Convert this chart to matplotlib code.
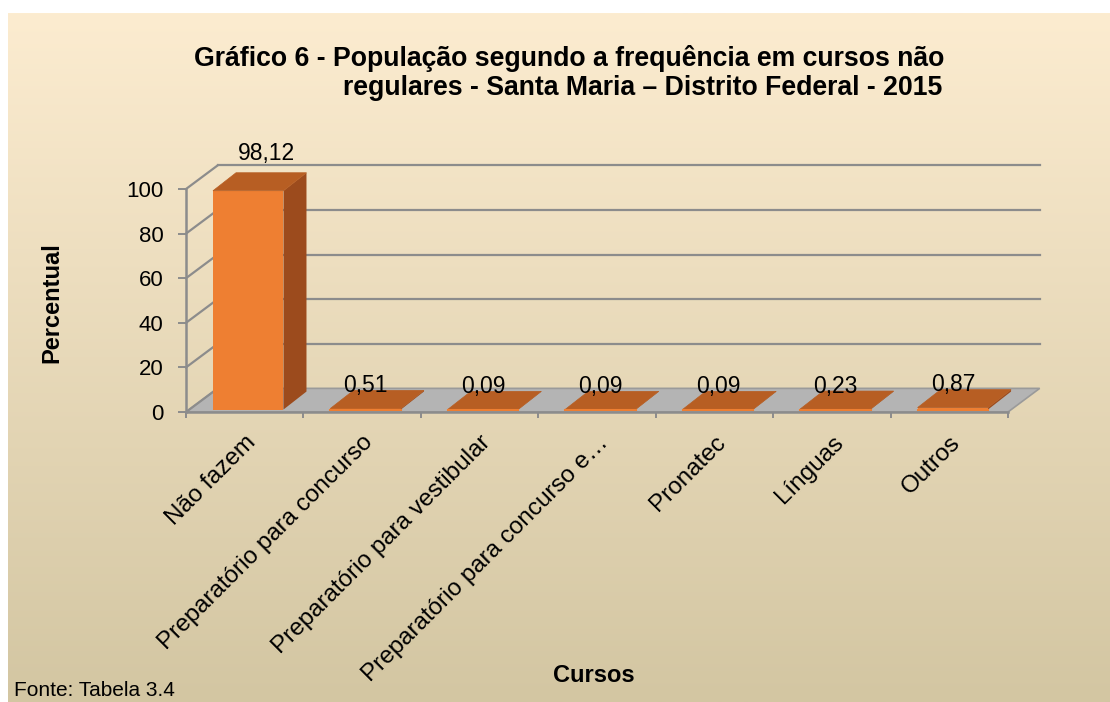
import numpy as np
import matplotlib
matplotlib.use('Agg')
import matplotlib.pyplot as plt
from matplotlib.patches import Polygon, Rectangle
from matplotlib.colors import LinearSegmentedColormap

# ---- data ----
categories = ["Não fazem", "Preparatório para concurso", "Preparatório para vestibular",
              "Preparatório para concurso e…", "Pronatec", "Línguas", "Outros"]
values = [98.12, 0.51, 0.09, 0.09, 0.09, 0.23, 0.87]
y_ticks = [0, 20, 40, 60, 80, 100]
title_line1 = "Gráfico 6 - População segundo a frequência em cursos não"
title_line2 = "regulares - Santa Maria – Distrito Federal - 2015"
x_label = "Cursos"
y_label = "Percentual"
source = "Fonte: Tabela 3.4"

plt.rcParams['font.family'] = ['Liberation Sans', 'DejaVu Sans']

W_PX, H_PX = 1110, 702
fig = plt.figure(figsize=(W_PX / 100, H_PX / 100), dpi=100)
fig.patch.set_facecolor('white')

# background gradient
bg = fig.add_axes([8 / W_PX, 0, 1 - 8 / W_PX, 1 - 13 / H_PX])
bg.set_axis_off()
c_top = np.array([252, 236, 208]) / 255
c_bot = np.array([211, 198, 162]) / 255
cmap = LinearSegmentedColormap.from_list('bg', [c_top, c_bot])
grad = np.linspace(0, 1, 256)[:, None]
bg.imshow(grad, aspect='auto', cmap=cmap, extent=[0, 1, 0, 1], origin='upper')
bg.set_zorder(-5)

# main axes
ax = fig.add_axes([186 / W_PX, (H_PX - 412) / H_PX, 822 / W_PX, 223 / H_PX])
ax.patch.set_alpha(0)
n = len(categories)
ax.set_xlim(-0.5, n - 0.5)
ax.set_ylim(0, 100)

GRID = '#8C8C8C'
DX, DY = 0.27, 10.6          # wall depth (category units, value units)
BDX, BDY = 0.196, 8.07       # bar depth
BX, BY = 0.03, 1.1           # bar offset from floor front
BW = 0.6                     # bar width

# floor
floor = Polygon([(-0.5, 0), (n - 0.5, 0), (n - 0.5 + DX, DY), (-0.5 + DX, DY)],
                closed=True, facecolor='#B4B4B4', edgecolor='#9A9A9A', lw=1.2,
                clip_on=False, zorder=1)
ax.add_patch(floor)

# wall gridlines
for t in y_ticks:
    ax.plot([-0.5, -0.5 + DX], [t, t + DY], color=GRID, lw=1.6, clip_on=False, zorder=2)
    if t > 0:
        ax.plot([-0.5 + DX, n - 0.5 + DX], [t + DY, t + DY], color=GRID, lw=1.6,
                clip_on=False, zorder=2)

FRONT = '#EE7F32'
SIDE = '#9C4B1D'
TOP = '#B75E23'

for i, v in enumerate(values):
    x0 = i - BW / 2 + BX
    y0 = BY
    front = Rectangle((x0, y0), BW, v, facecolor=FRONT, edgecolor='none',
                      clip_on=False, zorder=5)
    side = Polygon([(x0 + BW, y0), (x0 + BW + BDX, y0 + BDY),
                    (x0 + BW + BDX, y0 + v + BDY), (x0 + BW, y0 + v)],
                   closed=True, facecolor=SIDE, edgecolor='none', clip_on=False, zorder=5)
    topf = Polygon([(x0, y0 + v), (x0 + BW, y0 + v), (x0 + BW + BDX, y0 + v + BDY),
                    (x0 + BDX, y0 + v + BDY)],
                   closed=True, facecolor=TOP, edgecolor=TOP, lw=0.5, clip_on=False, zorder=6)
    for p in (front, side, topf):
        ax.add_patch(p)
    if v < 5:
        ax.plot([x0, x0 + BW], [y0, y0], color=FRONT, lw=1.5, clip_on=False, zorder=7)
    label = f"{v:.2f}".replace('.', ',')
    ax.text(i + BX + 0.16 * v / 100, v * 1.066 + 6.2, label, ha='center', va='bottom',
            fontsize=16.5, color='black', clip_on=False, zorder=8)

# spines
for s in ('top', 'right'):
    ax.spines[s].set_visible(False)
for s in ('left', 'bottom'):
    ax.spines[s].set_color(GRID)
    ax.spines[s].set_linewidth(1.8)
    ax.spines[s].set_zorder(9)

ax.set_yticks(y_ticks)
ax.set_yticklabels([str(t) for t in y_ticks])
ax.tick_params(axis='y', length=5.8, width=1.4, color=GRID, pad=10.5, labelsize=16)

ax.set_xticks(range(n))
ax.set_xticklabels(categories, rotation=45, ha='right', va='top',
                   rotation_mode='anchor', fontsize=17.5)
ax.tick_params(axis='x', which='major', length=0, pad=14)
ax.set_xticks(np.arange(-0.5, n, 1), minor=True)
ax.tick_params(axis='x', which='minor', length=4, width=1.4, color=GRID)

# texts
fig.text(569 / W_PX, 1 - 58 / H_PX, title_line1, ha='center', va='center',
         fontsize=19.2, fontweight='bold')
fig.text(642.5 / W_PX, 1 - 88 / H_PX, title_line2, ha='center', va='center',
         fontsize=19.2, fontweight='bold')
fig.text(52 / W_PX, 1 - 303 / H_PX, y_label, rotation=90, ha='center', va='center',
         fontsize=17, fontweight='bold')
fig.text(594 / W_PX, 1 - 675 / H_PX, x_label, ha='center', va='center',
         fontsize=17, fontweight='bold')
fig.text(14 / W_PX, 1 - 690 / H_PX, source, ha='left', va='center', fontsize=15)

fig.savefig('out.png', dpi=100)
